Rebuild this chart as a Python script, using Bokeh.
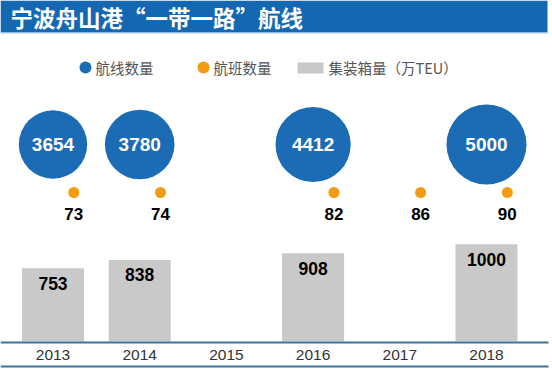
import math
from bokeh.plotting import figure
from bokeh.models import Range1d, ColumnDataSource
from bokeh.core.properties import value
from bokeh.embed import file_html
from bokeh.resources import INLINE

# ---------------- data ----------------
title = "宁波舟山港“一带一路”航线"
years = [2013, 2014, 2015, 2016, 2017, 2018]
year_labels = ["2013", "2014", "2015", "2016", "2017", "2018"]
route_years = [2013, 2014, 2016, 2018]
routes = [3654, 3780, 4412, 5000]
flight_years = [2013, 2014, 2016, 2017, 2018]
flights = [73, 74, 82, 86, 90]
teu_years = [2013, 2014, 2016, 2018]
teu = [753, 838, 908, 1000]
legend_labels = ["航线数量", "航班数量", "集装箱量（万TEU）"]

# ---------------- style / layout ----------------
W, H = 552, 376
PXY = 86.7            # pixels per year
UPP = 10.28           # TEU units per pixel
BASE = 341            # pixel row of bar baseline
X_LEFT = 2013 - 52.5 / PXY

BLUE = "#1b6bb5"
ORANGE = "#f39c12"
GRAY = "#c9c9c9"
LINE = "#3b74a0"
TITLE_BG = "#1468b2"
NUM_FONT = value("Liberation Sans")
CJK_FONT = value("Noto Sans CJK SC")


def sx(px):
    return X_LEFT + px / PXY


def sy(py):
    return (BASE - py) * UPP


p = figure(width=W, height=H, output_backend="svg", toolbar_location=None,
           x_range=Range1d(sx(0), sx(W)), y_range=Range1d(sy(H), sy(0)),
           x_axis_location=None, y_axis_location=None,
           min_border=0, outline_line_color=None,
           background_fill_color="white", border_fill_color="white")
p.grid.visible = False

# title bar
p.quad(left=sx(0), right=sx(547), top=sy(0), bottom=sy(32),
       fill_color=TITLE_BG, line_color=None)
p.segment(x0=sx(0), x1=sx(547), y0=sy(32.5), y1=sy(32.5),
          line_color="#9cc6ea", line_width=1)
p.text(x=[sx(10)], y=[sy(16.5)], text=[title], text_font=CJK_FONT,
       text_font_style="bold", text_font_size="22.5px", text_color="white",
       text_baseline="middle", text_align="left")

# legend
leg_y = sy(67)
p.scatter(x=[sx(85)], y=[leg_y], size=12, fill_color=BLUE, line_color=None)
p.scatter(x=[sx(203)], y=[leg_y], size=12, fill_color=ORANGE, line_color=None)
p.quad(left=sx(297), right=sx(323), top=sy(62), bottom=sy(73),
       fill_color=GRAY, line_color=None)
p.text(x=[sx(95), sx(213), sx(328)], y=[leg_y] * 3, text=legend_labels,
       text_font=CJK_FONT, text_font_size="14.5px", text_color="#555555",
       text_baseline="middle", text_align="left")

# route circles (area proportional)
route_src = ColumnDataSource(dict(
    x=route_years, v=routes, label=[str(v) for v in routes],
    size=[1.132 * math.sqrt(v) for v in routes]))
p.scatter(x="x", y=sy(144), size="size", source=route_src,
          fill_color=BLUE, line_color=None)
p.text(x="x", y=sy(144), text="label", source=route_src,
       text_font=NUM_FONT, text_font_style="bold", text_font_size="19px",
       text_color="white", text_align="center", text_baseline="middle")

# flight dots
DODGE = 0.24
flight_src = ColumnDataSource(dict(
    x=[y + DODGE for y in flight_years], label=[str(v) for v in flights]))
p.scatter(x="x", y=sy(192), size=11, source=flight_src,
          fill_color=ORANGE, line_color=None)
p.text(x="x", y=sy(213), text="label", source=flight_src,
       text_font=NUM_FONT, text_font_style="bold", text_font_size="17px",
       text_color="black", text_align="center", text_baseline="middle")

# TEU bars
teu_src = ColumnDataSource(dict(x=teu_years, top=teu,
                                label=[str(v) for v in teu]))
p.vbar(x="x", top="top", bottom=0, width=0.715, source=teu_src,
       fill_color=GRAY, line_color=None)
p.text(x="x", y="top", text="label", source=teu_src, y_offset=15,
       text_font=NUM_FONT, text_font_style="bold", text_font_size="17.5px",
       text_color="black", text_align="center", text_baseline="middle")

# axis band
for py in (342, 366):
    p.segment(x0=sx(0), x1=sx(548), y0=sy(py), y1=sy(py),
              line_color=LINE, line_width=2)
p.text(x=years, y=sy(354), text=year_labels,
       text_font=value("Liberation Sans"), text_font_size="15.5px",
       text_color="#333333", text_align="center", text_baseline="middle")

open("out.html", "w").write(file_html(p, INLINE))
